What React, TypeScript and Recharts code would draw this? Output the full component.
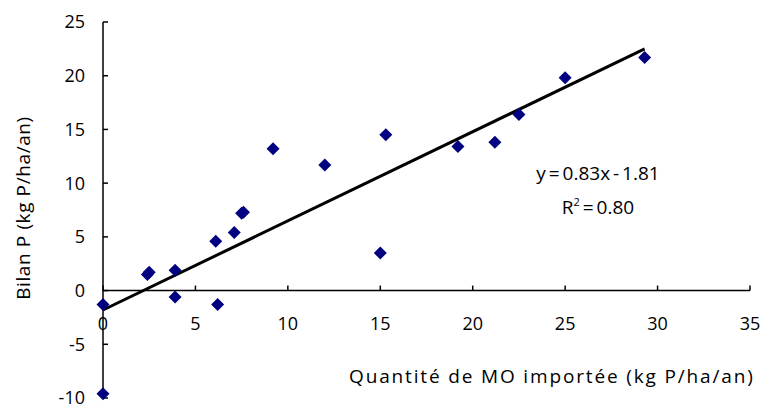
import React from 'react';
import { ScatterChart, Scatter, XAxis, YAxis, ReferenceLine, ReferenceDot } from 'recharts';

// Quantité de MO importée (kg P/ha/an)
const apportMO = [0, 0, 2.4, 2.5, 3.9, 3.9, 6.1, 6.2, 7.1, 7.5, 7.6, 9.2, 12.0, 15.0, 15.3, 19.2, 21.2, 22.5, 25.0, 29.3];
// Bilan P (kg P/ha/an)
const bilanP = [-9.6, -1.3, 1.5, 1.7, 1.9, -0.6, 4.6, -1.3, 5.4, 7.2, 7.3, 13.2, 11.7, 3.5, 14.5, 13.4, 13.8, 16.4, 19.8, 21.7];

// droite de tendance (extrémités)
const trendX = [0, 29.3];
const trendY = [-1.81, 22.5];

const xTicks = [0, 5, 10, 15, 20, 25, 30, 35];
const yTicks = [-10, -5, 0, 5, 10, 15, 20, 25];

const points = apportMO.map((x, i) => ({ x, y: bilanP[i] }));
const trend = trendX.map((x, i) => ({ x, y: trendY[i] }));

const font = '"Open Sans", sans-serif';
const navy = '#000080';

const Diamond = (props: any) => {
    const { cx, cy } = props;
    const s = 6.5;
    return <polygon points={`${cx},${cy - s} ${cx + s},${cy} ${cx},${cy + s} ${cx - s},${cy}`} fill={navy} />;
};

const XTick = (value: number) => (props: any) => {
    const { cx, cy } = props;
    return (
        <g>
            <line x1={cx} y1={cy} x2={cx} y2={cy - 5} stroke="#000" strokeWidth={1.5} />
            <text x={cx} y={cy + 39} textAnchor="middle" fontFamily={font} fontSize={18} fill="#000">{value}</text>
        </g>
    );
};

export default function App() {
    return (
        <div style={{ position: 'absolute', left: 0, top: 0, width: 767, height: 405, background: '#fff' }}>
            <ScatterChart width={767} height={405} margin={{ top: 22, right: 17, bottom: 7, left: 0 }}>
                <XAxis type="number" dataKey="x" domain={[0, 35]} ticks={xTicks} hide />
                <YAxis
                    type="number"
                    dataKey="y"
                    domain={[-10, 25]}
                    ticks={yTicks}
                    interval={0}
                    width={103}
                    axisLine={{ stroke: '#000', strokeWidth: 1.5 }}
                    tickLine={{ stroke: '#000', strokeWidth: 1.5 }}
                    tickSize={-5}
                    tickMargin={23}
                    tick={{ fill: '#000', fontSize: 18, fontFamily: font }}
                />
                <ReferenceLine y={0} stroke="#000" strokeWidth={1.5} />
                {xTicks.map((t) => (
                    <ReferenceDot key={t} x={t} y={0} r={0} shape={XTick(t)} />
                ))}
                <Scatter data={trend} line={{ stroke: '#000', strokeWidth: 3 }} shape={() => <g />} isAnimationActive={false} />
                <Scatter data={points} shape={Diamond} isAnimationActive={false} />
            </ScatterChart>
            <svg width={767} height={405} style={{ position: 'absolute', left: 0, top: 0, pointerEvents: 'none' }}>
                <text x={349} y={383} fontFamily={font} fontSize={19} letterSpacing={1.85} fill="#000">
                    Quantité de MO importée (kg P/ha/an)
                </text>
                <text transform="translate(30,208) rotate(-90)" textAnchor="middle" fontFamily={font} fontSize={19} letterSpacing={0.6} fill="#000">
                    Bilan P (kg P/ha/an)
                </text>
                <text x={598} y={180} textAnchor="middle" fontFamily={font} fontSize={19} wordSpacing={-2} fill="#000">
                    y = 0.83x - 1.81
                </text>
                <text x={598} y={214} textAnchor="middle" fontFamily={font} fontSize={19} wordSpacing={-2} fill="#000">
                    R<tspan dy={-8} fontSize={11}>2</tspan>
                    <tspan dy={8}> = 0.80</tspan>
                </text>
            </svg>
        </div>
    );
}
